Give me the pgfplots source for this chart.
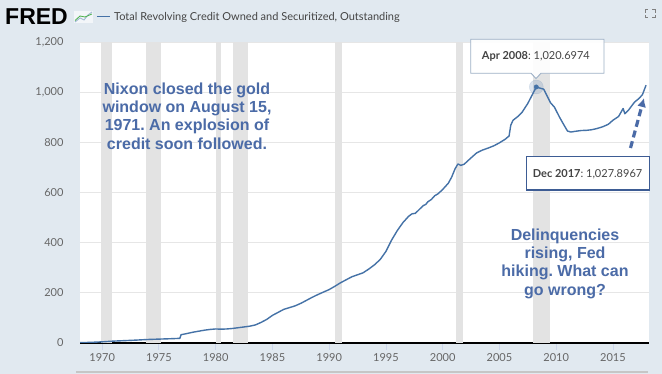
\documentclass[border=0pt]{standalone}
\usepackage{pgfplots}
\pgfplotsset{compat=1.18}
\usepackage{pgfplotstable}
\usetikzlibrary{arrows.meta}
\usepackage{fontspec}
\setmainfont{Lato}
\newfontfamily\arialf{Liberation Sans}
\frenchspacing
\definecolor{bgc}{HTML}{E1E9F0}
\definecolor{linec}{HTML}{4572A7}
\definecolor{gridc}{HTML}{E6E6E6}
\definecolor{recc}{HTML}{E3E3E3}
\definecolor{annc}{HTML}{4B6BA7}
\definecolor{tickc}{HTML}{666666}
\definecolor{titc}{HTML}{444444}
\definecolor{boxc}{HTML}{9DB0C6}
\definecolor{boxtwo}{HTML}{3D5C94}
\definecolor{xtickc}{HTML}{CCD6EB}

\pgfplotstableread{
yr v
1968.05 1.3
1969.0 2.6
1970.0 4.6
1971.0 7.5
1972.0 9.5
1973.0 11.5
1974.0 14
1975.0 15.5
1976.0 17
1976.85 18.5
1976.95 33
1977.5 38
1978.0 43
1978.5 47
1979.0 51
1979.5 54
1980.0 56
1980.5 55
1981.0 56
1981.5 58
1982.0 61
1982.5 64
1983.0 67
1983.5 72
1984.0 82
1984.5 94
1985.0 110
1985.5 122
1986.0 134
1986.5 141
1987.0 148
1987.5 158
1988.0 170
1988.5 182
1989.0 193
1989.5 203
1990.0 213
1990.5 226
1991.0 240
1991.5 252
1992.0 264
1992.5 272
1993.0 280
1993.5 295
1994.0 312
1994.5 333
1995.0 365
1995.5 410
1996.0 448
1996.5 480
1997.0 505
1997.3 515
1997.6 517
1998.0 535
1998.3 548
1998.5 552
1998.7 563
1999.0 572
1999.3 587
1999.6 595
2000.0 612
2000.5 637
2000.8 662
2001.1 695
2001.35 714
2001.6 708
2001.9 713
2002.5 738
2003.0 758
2003.5 769
2004.0 777
2004.5 786
2005.0 798
2005.5 812
2005.85 825
2006.0 868
2006.2 888
2006.6 902
2007.0 920
2007.5 955
2007.9 990
2008.25 1020.6974
2008.5 1017
2008.9 1012
2009.2 985
2009.5 958
2009.85 940
2010.3 900
2010.7 868
2011.0 845
2011.3 841
2011.7 844
2012.2 847
2012.7 848
2013.1 850
2013.6 855
2014.1 862
2014.6 872
2015.0 888
2015.5 903
2015.9 935
2016.05 914
2016.4 930
2016.9 960
2017.3 975
2017.6 990
2017.92 1027.8967
}\revol

\begin{document}
\begin{tikzpicture}
\begin{scope}[x=1pt,y=1pt]
\fill[bgc] (0,0) rectangle (662,374);
\end{scope}
\begin{axis}[
  at={(80pt,31pt)}, anchor=south west,
  scale only axis, width=569pt, height=301pt,
  xmin=1968.05, xmax=2018.18, ymin=0, ymax=1200,
  axis background/.style={fill=white},
  axis x line*=bottom, axis y line*=left,
  x axis line style={-, black, line width=1.4pt},
  y axis line style={draw=none},
  ytick={0,200,...,1200},
  ymajorgrids, grid style={gridc, line width=0.8pt},
  xtick={1970,1975,...,2015},
  xticklabels={1970,1975,1980,1985,1990,1995,2000,2005,2010,2015},
  tick align=outside, major tick length=7pt,
  xtick style={xtickc, line width=0.8pt},
  ytick style={draw=none},
  scaled y ticks=false,
  /pgf/number format/assume math mode=true,
  /pgf/number format/1000 sep={,},
  yticklabel style={font=\fontsize{11}{13}\selectfont, text=tickc, anchor=east, xshift=-6pt},
  xticklabel style={font=\fontsize{11}{13}\selectfont, text=tickc, anchor=north, yshift=-0.5pt},
]
\addplot[fill=recc, draw=none] coordinates {(1969.92,1200)(1970.83,1200)} \closedcycle;
\addplot[fill=recc, draw=none] coordinates {(1973.83,1200)(1975.17,1200)} \closedcycle;
\addplot[fill=recc, draw=none] coordinates {(1980.0,1200)(1980.5,1200)} \closedcycle;
\addplot[fill=recc, draw=none] coordinates {(1981.5,1200)(1982.83,1200)} \closedcycle;
\addplot[fill=recc, draw=none] coordinates {(1990.5,1200)(1991.17,1200)} \closedcycle;
\addplot[fill=recc, draw=none] coordinates {(2001.17,1200)(2001.83,1200)} \closedcycle;
\addplot[fill=recc, draw=none] coordinates {(2007.92,1200)(2009.42,1200)} \closedcycle;
\addplot[linec, line width=1.4pt, line join=round] table[x=yr, y=v] {\revol};
\addplot[only marks, mark=*, mark size=7pt, color=linec, opacity=0.18, mark options={draw=none}] coordinates {(2008.25,1020.6974)};
\addplot[only marks, mark=*, mark size=2.2pt, color=linec] coordinates {(2008.25,1020.6974)};
\end{axis}
\begin{scope}[x=1pt,y=1pt]
% header
\node[anchor=base west, inner sep=0, font=\arialf\bfseries\fontsize{23}{23}\selectfont, text=black] at (5,349) {FRED};
\fill[white, opacity=0.6] (74,351) rectangle (93,363);
\draw[linec!50, line width=0.9pt] (75,352) -- (80,356) -- (84,354) -- (88,359) -- (92,362);
\draw[green!40!gray, line width=0.8pt] (75,353.5) -- (80,358) -- (85,357) -- (92,360);
\draw[linec, line width=1.6pt] (97,357.5) -- (110,357.5);
\node[anchor=base west, inner sep=0, font=\fontsize{11}{13}\selectfont, text=titc] at (114,353.3) {Total Revolving Credit Owned and Securitized, Outstanding};
% fullscreen icon
\draw[gray, line width=1pt] (645,361) -- (645,364) -- (648,364);
\draw[gray, line width=1pt] (652,364) -- (655,364) -- (655,361);
\draw[gray, line width=1pt] (645,359) -- (645,356) -- (648,356);
\draw[gray, line width=1pt] (652,356) -- (655,356) -- (655,359);
% navigator line
\draw[gray!45, line width=1.5pt] (76,2) -- (648,2);
% annotations
\node[anchor=north, inner sep=0, align=center, text=annc, font=\arialf\bfseries\fontsize{16}{18.3}\selectfont] at (187,291.5) {Nixon closed the gold\\window on August 15,\\1971. An explosion of\\credit soon followed.};
\node[anchor=north, inner sep=0, align=center, text=annc, font=\arialf\bfseries\fontsize{16}{18.3}\selectfont] at (565,145.5) {Delinquencies\\rising, Fed\\hiking. What can\\go wrong?};
% Apr 2008 tooltip
\filldraw[fill=white, fill opacity=0.92, draw=boxc, line width=0.9pt] (470.7,300.7) -- (531,300.7) -- (536,295.5) -- (541,300.7) -- (604,300.7) -- (604,334.7) -- (470.7,334.7) -- cycle;
\node[anchor=base west, inner sep=0, font=\fontsize{11}{13}\selectfont, text=titc] at (481.7,314.5) {\textbf{Apr 2008}: 1,020.6974};
% Dec 2017 box
\filldraw[fill=white, draw=boxtwo, line width=1.5pt] (526.7,184) rectangle (649.3,217.3);
\node[anchor=base west, inner sep=0, font=\fontsize{11}{13}\selectfont, text=titc] at (532.7,196) {\textbf{Dec 2017}: 1,027.8967};
% dashed arrow
\draw[annc, line width=3.2pt, dash pattern=on 7pt off 4pt, -{Latex[length=9pt, width=9pt]}] (630.5,226) -- (644,276);
\end{scope}
\end{tikzpicture}
\end{document}
